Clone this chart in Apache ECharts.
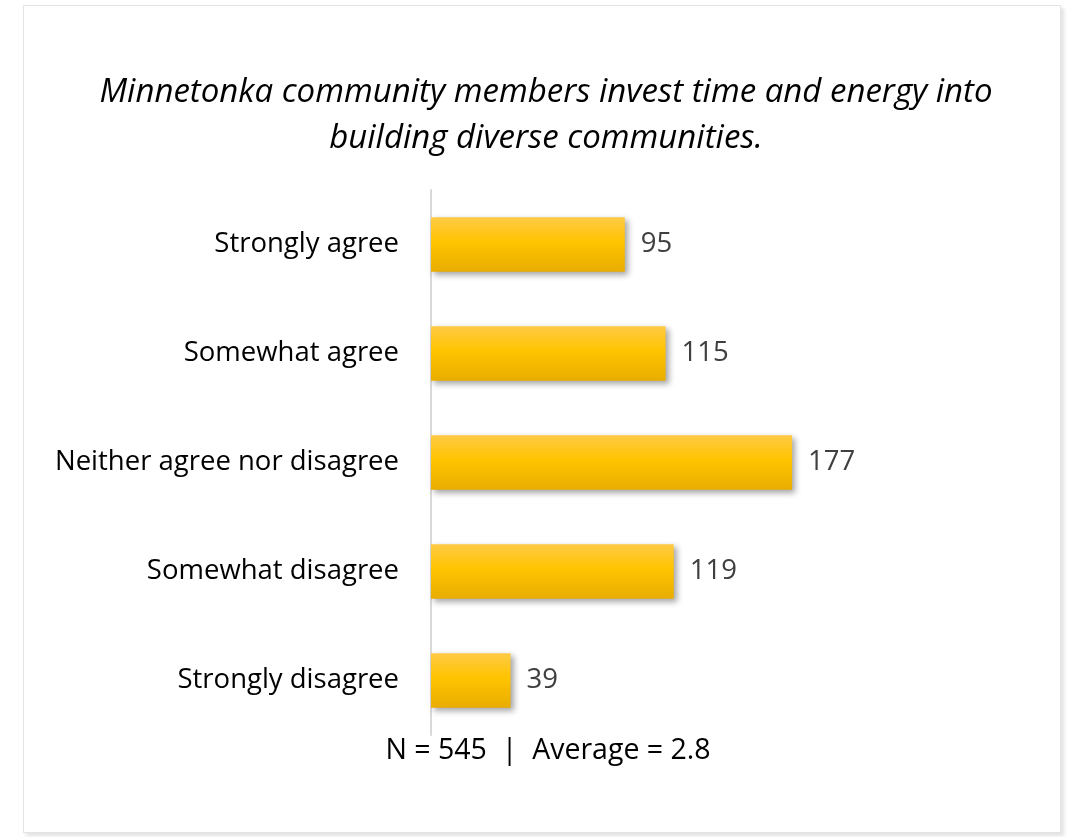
<!DOCTYPE html>
<html>
<head>
<meta charset="utf-8">
<script src="https://cdn.jsdelivr.net/npm/echarts@6/dist/echarts.min.js"></script>
<style>
  html, body { margin: 0; padding: 0; background: #ffffff; }
  #card {
    position: absolute; left: 23px; top: 5px; width: 1036px; height: 826px;
    border: 1px solid #e4e4e4; box-shadow: 3px 3px 4px rgba(0,0,0,0.12);
    background: #ffffff;
  }
  #chart { position: absolute; left: 0; top: 0; width: 1071px; height: 837px; }
</style>
</head>
<body>
<div id="card"></div>
<div id="chart"></div>
<script>
// Survey responses, listed bottom to top as drawn on the category axis
const categories = ['Strongly disagree', 'Somewhat disagree', 'Neither agree nor disagree', 'Somewhat agree', 'Strongly agree'];
const counts = [39, 119, 177, 115, 95];
const titleLines = ['Minnetonka community members invest time and energy into', 'building diverse communities.'];
const footer = 'N = 545  |  Average = 2.8';

const font = 'Open Sans, Noto Sans, sans-serif';
const chart = echarts.init(document.getElementById('chart'), null, { renderer: 'canvas' });

chart.setOption({
  animation: false,
  title: [
    {
      text: titleLines.join('\n'),
      left: 541, top: 65, textAlign: 'center',
      textStyle: { fontFamily: font, fontStyle: 'italic', fontWeight: 'normal', fontSize: 33, lineHeight: 46, color: '#000000' }
    },
    {
      text: footer,
      left: 543, top: 731, textAlign: 'center',
      textStyle: { fontFamily: font, fontWeight: 'normal', fontSize: 28.5, color: '#000000' }
    }
  ],
  grid: { left: 431, top: 190, width: 510, height: 545, containLabel: false },
  xAxis: {
    type: 'value', min: 0, max: 250, show: false
  },
  yAxis: {
    type: 'category', data: categories,
    axisLine: { show: true, lineStyle: { color: '#d9d9d9', width: 2 } },
    axisTick: { show: false },
    axisLabel: { fontFamily: font, fontSize: 27.5, color: '#000000', margin: 32, padding: [3, 0, 0, 0] }
  },
  series: [{
    type: 'bar', data: counts, barWidth: '50%',
    itemStyle: {
      color: new echarts.graphic.LinearGradient(0, 0, 0, 1, [
        { offset: 0, color: '#ffca45' },
        { offset: 0.45, color: '#ffc400' },
        { offset: 1, color: '#e8ad00' }
      ]),
      shadowColor: 'rgba(0,0,0,0.35)', shadowBlur: 6, shadowOffsetX: 3, shadowOffsetY: 3
    },
    label: {
      show: true, position: 'right', distance: 16,
      fontFamily: font, fontSize: 27.5, color: '#404040'
    }
  }]
});
</script>
</body>
</html>
